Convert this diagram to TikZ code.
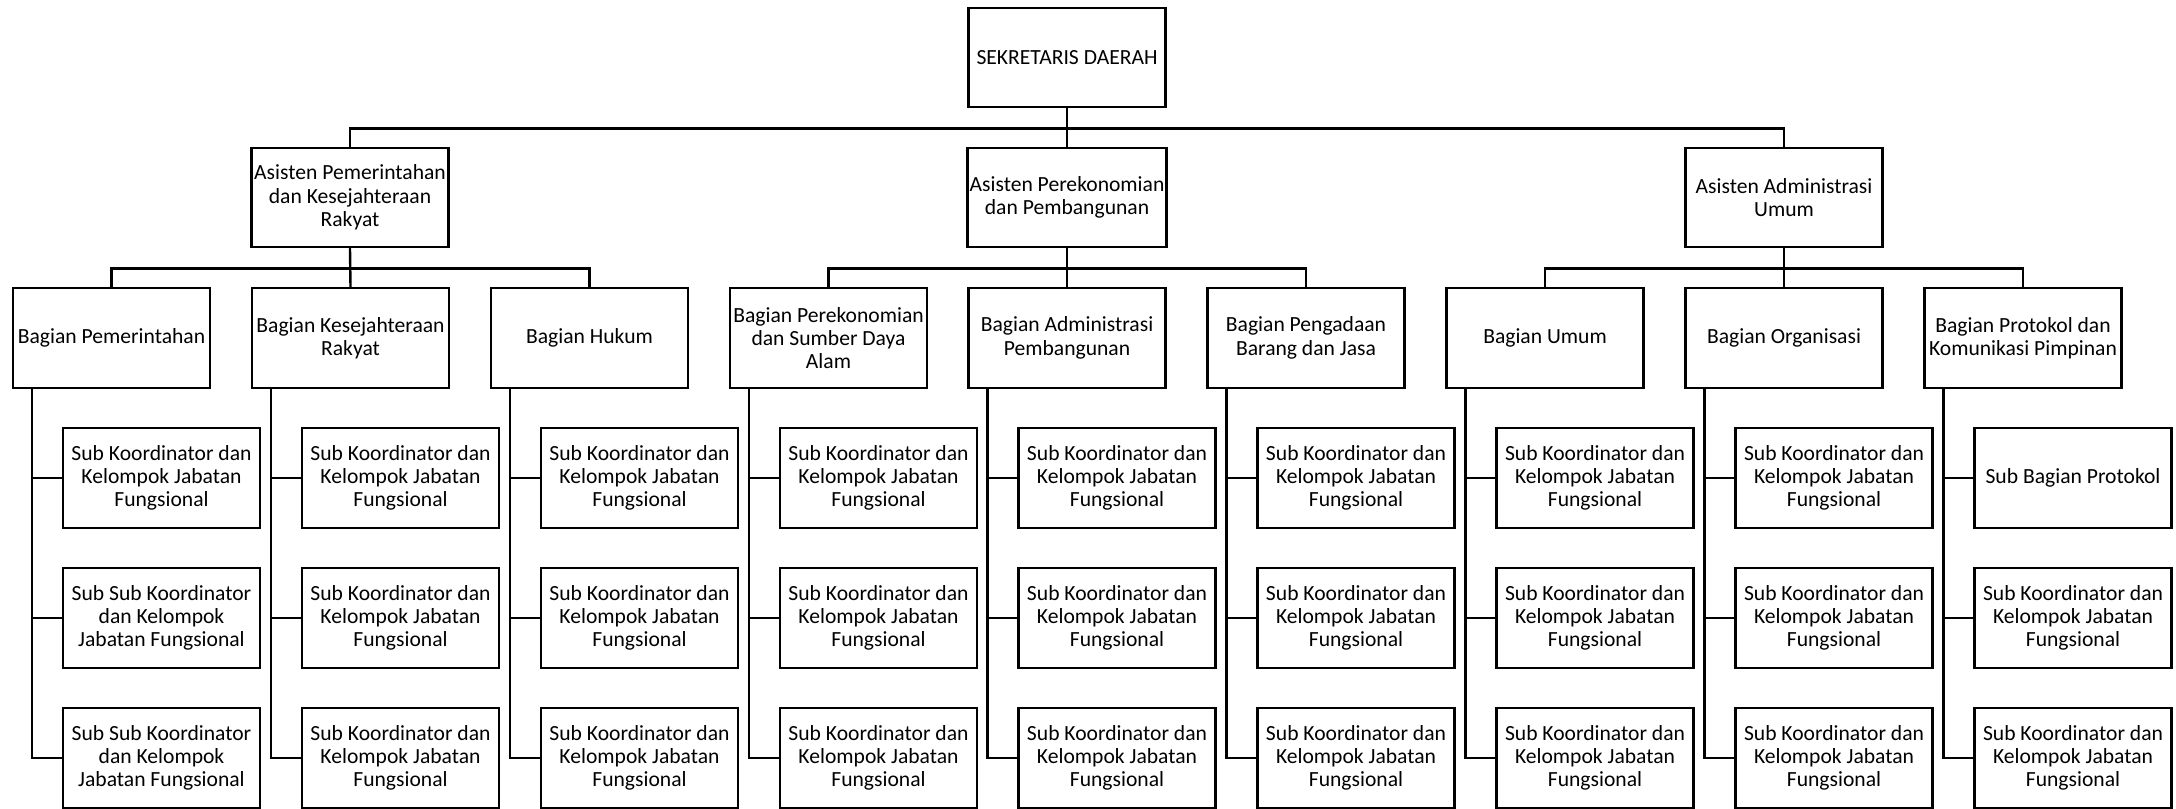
\documentclass[tikz,border=0pt]{standalone}
\usepackage{fontspec}
\setmainfont{Carlito}
\usepackage{tikz}
\usetikzlibrary{positioning}
\tikzset{
    chart/.style={font=\fontsize{10.8}{11.65}\selectfont, x=0.5pt, y=0.5pt},
    chart box/.style={draw, line width=1.2pt, align=center, inner sep=1pt,
        minimum width=98.5pt, minimum height=49.75pt},
    chart connector/.style={line width=1.2pt},
}
\newcommand{\skjf}{Sub Koordinator dan\\Kelompok Jabatan\\Fungsional}
\newcommand{\sskjf}{Sub Sub Koordinator\\dan Kelompok\\Jabatan Fungsional}

\begin{document}
\begin{tikzpicture}[
        chart,
        unitbox/.style={chart box},
        subbox/.style={chart box},
        node distance=19.05pt
    ]
    \useasboundingbox (0,0) rectangle (2176,809);

    \node[chart box] (sekda) at (1067,751.5) {SEKRETARIS DAERAH};

    \node[chart box] (asPem) at (350,611.5) {Asisten Pemerintahan\\dan Kesejahteraan\\Rakyat};
    \node[chart box] (asEko) at (1067,611.5) {Asisten Perekonomian\\dan Pembangunan};
    \node[chart box] (asAdm) at (1784,611.5) {Asisten Administrasi\\Umum};

    \draw[chart connector] (sekda.south) -- (asEko.north);
    \draw[chart connector] (sekda.south) -- ++(0,-20) -| (asPem.north);
    \draw[chart connector] (sekda.south) -- ++(0,-20) -| (asAdm.north);

    % bagian
    \node[unitbox] (bPem) at (111.5,471) {Bagian Pemerintahan};
    \node[unitbox] (bKes) at (350.5,471) {Bagian Kesejahteraan\\Rakyat};
    \node[unitbox] (bHuk) at (589.5,471) {Bagian Hukum};
    \node[unitbox] (bEko) at (828.5,471) {Bagian Perekonomian\\dan Sumber Daya\\Alam};
    \node[unitbox] (bAdp) at (1067,471) {Bagian Administrasi\\Pembangunan};
    \node[unitbox] (bPbj) at (1306,471) {Bagian Pengadaan\\Barang dan Jasa};
    \node[unitbox] (bUmu) at (1545,471) {Bagian Umum};
    \node[unitbox] (bOrg) at (1784,471) {Bagian Organisasi};
    \node[unitbox] (bPro) at (2023,471) {Bagian Protokol dan\\Komunikasi Pimpinan};

    \foreach \a/\b in {asPem/bPem, asPem/bHuk, asEko/bEko, asEko/bPbj, asAdm/bUmu, asAdm/bPro}
        \draw[chart connector] (\a.south) -- ++(0,-20) -| (\b.north);
    \foreach \a/\b in {asPem/bKes, asEko/bAdp, asAdm/bOrg}
        \draw[chart connector] (\a.south) -- (\b.north);

    % sub koordinator
    \foreach \b/\ta/\tb/\tc in {bPem/\skjf/\sskjf/\sskjf, bKes/\skjf/\skjf/\skjf,
            bHuk/\skjf/\skjf/\skjf, bEko/\skjf/\skjf/\skjf, bAdp/\skjf/\skjf/\skjf,
            bPbj/\skjf/\skjf/\skjf, bUmu/\skjf/\skjf/\skjf, bOrg/\skjf/\skjf/\skjf,
            bPro/{Sub Bagian Protokol}/\skjf/\skjf} {
        \node[subbox, below=of \b, xshift=25pt] (\b-1) {\ta};
        \node[subbox, below=of \b-1] (\b-2) {\tb};
        \node[subbox, below=of \b-2] (\b-3) {\tc};
        \coordinate (\b-trunk) at ([xshift=10pt]\b.south west);
        \draw[chart connector] (\b-trunk) |- (\b-3.west);
        \draw[chart connector] (\b-1.west) -- (\b-1.west -| \b-trunk);
        \draw[chart connector] (\b-2.west) -- (\b-2.west -| \b-trunk);
    }
\end{tikzpicture}
\end{document}
